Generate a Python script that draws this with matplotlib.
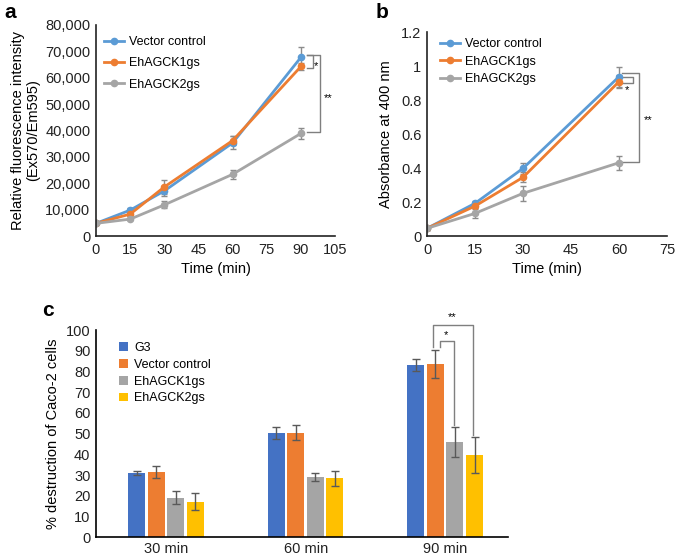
import matplotlib
matplotlib.use('Agg')
import matplotlib.pyplot as plt
from matplotlib.lines import Line2D
import numpy as np

plt.rcParams['font.family'] = ['Liberation Sans', 'DejaVu Sans']

# ---------------- data ----------------
series_names = ['Vector control', 'EhAGCK1gs', 'EhAGCK2gs']

time_a = [0, 15, 30, 60, 90]
a_vector = [4800, 9800, 17100, 35300, 67800]
a_vector_err = [300, 700, 1800, 2500, 3800]
a_k1 = [4800, 8300, 18600, 36200, 64300]
a_k1_err = [300, 600, 2600, 1800, 1300]
a_k2 = [4800, 6400, 11800, 23400, 38900]
a_k2_err = [300, 500, 1300, 1800, 2200]

time_b = [0, 15, 30, 60]
b_vector = [0.045, 0.192, 0.398, 0.937]
b_vector_err = [0.01, 0.015, 0.033, 0.06]
b_k1 = [0.045, 0.176, 0.345, 0.908]
b_k1_err = [0.01, 0.02, 0.03, 0.04]
b_k2 = [0.045, 0.133, 0.251, 0.431]
b_k2_err = [0.01, 0.03, 0.045, 0.04]

c_groups = ['30 min', '60 min', '90 min']
c_series = ['G3', 'Vector control', 'EhAGCK1gs', 'EhAGCK2gs']
c_g3 = [31.0, 50.3, 83.0]
c_g3_err = [0.8, 2.8, 3.0]
c_vector = [31.6, 50.5, 83.6]
c_vector_err = [2.9, 3.6, 6.6]
c_k1 = [19.2, 29.0, 46.0]
c_k1_err = [3.0, 2.0, 7.4]
c_k2 = [17.3, 28.5, 39.6]
c_k2_err = [4.3, 3.6, 8.6]

line_colors = ['#5B9BD5', '#ED7D31', '#A5A5A5']
bar_colors = ['#4472C4', '#ED7D31', '#A5A5A5', '#FFC000']
err_color = '#8C8C8C'
brk_color = '#7F7F7F'

W, H = 675, 557
fig = plt.figure(figsize=(W / 100, H / 100), dpi=100)


def ax_px(l, r, t, b):
    return fig.add_axes([l / W, 1 - b / H, (r - l) / W, (b - t) / H])


def style(ax, fs=10.5):
    for s in ['top', 'right']:
        ax.spines[s].set_visible(False)
    for s in ['left', 'bottom']:
        ax.spines[s].set_color('#222222')
        ax.spines[s].set_linewidth(1.2)
    ax.tick_params(length=0, labelsize=fs, colors='#222222')
    ax.tick_params(axis='x', pad=5)
    ax.tick_params(axis='y', pad=4)


def line_handles():
    return [Line2D([], [], color=c, lw=2, marker='o', ms=4.5) for c in line_colors]


# ---------------- panel a ----------------
axa = ax_px(96, 335.2, 25, 236)
for ys, es, col, nm in zip([a_vector, a_k1, a_k2], [a_vector_err, a_k1_err, a_k2_err],
                           line_colors, series_names):
    axa.errorbar(time_a, ys, yerr=es, color=col, lw=2, marker='o', ms=4.5,
                 ecolor=err_color, elinewidth=1, capsize=2.5, capthick=1, label=nm)
axa.set_xlim(0, 105)
axa.set_ylim(0, 80000)
axa.set_xticks(np.arange(0, 106, 15))
axa.set_yticks(np.arange(0, 80001, 10000))
axa.set_yticklabels(['{:,}'.format(v) for v in range(0, 80001, 10000)])
style(axa)
axa.set_xlabel('Time (min)', fontsize=10.5, labelpad=4)
axa.set_ylabel('Relative fluorescence intensity\n(Ex570/Em595)', fontsize=10.5, labelpad=4,
               linespacing=1.1)
axa.legend(line_handles(), series_names, loc='upper left', bbox_to_anchor=(104 / W, 1 - 36 / H),
           bbox_transform=fig.transFigure, frameon=False, fontsize=9,
           handlelength=1.6, handletextpad=0.4, labelspacing=0.75, borderpad=0,
           borderaxespad=0)
# significance brackets
ya_top = a_vector[-1] + 900
axa.plot([92.5, 98.3, 98.3, 92.5], [ya_top, ya_top, a_k2[-1] + 500, a_k2[-1] + 500],
         color=brk_color, lw=1, clip_on=False)
axa.plot([92.5, 95.4, 95.4, 92.5], [ya_top, ya_top, a_k1[-1] - 600, a_k1[-1] - 600],
         color=brk_color, lw=1, clip_on=False)
axa.text(96.6, 64300, '*', fontsize=8, ha='center', va='center')
axa.text(102, 52300, '**', fontsize=8, ha='center', va='center')

# ---------------- panel b ----------------
axb = ax_px(427, 667, 32, 236)
for ys, es, col, nm in zip([b_vector, b_k1, b_k2], [b_vector_err, b_k1_err, b_k2_err],
                           line_colors, series_names):
    axb.errorbar(time_b, ys, yerr=es, color=col, lw=2, marker='o', ms=4.5,
                 ecolor=err_color, elinewidth=1, capsize=2.5, capthick=1, label=nm)
axb.set_xlim(0, 75)
axb.set_ylim(0, 1.2)
axb.set_xticks(np.arange(0, 76, 15))
axb.set_yticks([0, 0.2, 0.4, 0.6, 0.8, 1.0, 1.2])
axb.set_yticklabels(['0', '0.2', '0.4', '0.6', '0.8', '1', '1.2'])
style(axb)
axb.set_xlabel('Time (min)', fontsize=10.5, labelpad=4)
axb.set_ylabel('Absorbance at 400 nm', fontsize=10.5, labelpad=6)
axb.legend(line_handles(), series_names, loc='upper left', bbox_to_anchor=(440 / W, 1 - 38 / H),
           bbox_transform=fig.transFigure, frameon=False, fontsize=9,
           handlelength=1.6, handletextpad=0.4, labelspacing=0.45, borderpad=0,
           borderaxespad=0)
axb.plot([60.9, 66.3, 66.3, 60.9], [0.957, 0.957, b_k2[-1] + 0.006, b_k2[-1] + 0.006],
         color=brk_color, lw=1, clip_on=False)
axb.plot([60.9, 64.4, 64.4, 60.9], [0.933, 0.933, 0.902, 0.902],
         color=brk_color, lw=1, clip_on=False)
axb.text(62.6, 0.858, '*', fontsize=8, ha='center', va='center')
axb.text(69.2, 0.682, '**', fontsize=8, ha='center', va='center')

# ---------------- panel c ----------------
axc = ax_px(96, 508, 330, 537.4)
xg = np.arange(len(c_groups))
step, bw = 0.14, 0.122
vals = [c_g3, c_vector, c_k1, c_k2]
errs = [c_g3_err, c_vector_err, c_k1_err, c_k2_err]
for i, (v, e, col, nm) in enumerate(zip(vals, errs, bar_colors, c_series)):
    axc.bar(xg + (i - 1.5) * step, v, width=bw, color=col, label=nm,
            yerr=e, error_kw=dict(ecolor='#595959', elinewidth=1, capsize=3, capthick=1))
axc.set_xlim(-0.502, 2.45)
axc.set_ylim(0, 100)
axc.set_xticks(xg)
axc.set_xticklabels(c_groups)
axc.set_yticks(np.arange(0, 101, 10))
style(axc)
axc.spines['left'].set_color('#000000')
axc.spines['bottom'].set_color('#000000')
axc.tick_params(axis='x', pad=3)
axc.set_ylabel('% destruction of Caco-2 cells', fontsize=10.5, labelpad=4)
h, l = axc.get_legend_handles_labels()
axc.legend(h, l, loc='upper left', bbox_to_anchor=(119 / W, 1 - 342 / H),
           bbox_transform=fig.transFigure, frameon=False, fontsize=9,
           handlelength=0.7, handleheight=0.7, handletextpad=0.5, labelspacing=0.38,
           borderpad=0, borderaxespad=0)
x_vc = 2 + (1 - 1.5) * step
x_k1 = 2 + (2 - 1.5) * step
x_k2 = 2 + (3 - 1.5) * step
y_vc_top = c_vector[2] + c_vector_err[2] + 1.7
axc.plot([x_vc - 0.02, x_vc - 0.02, x_k2 - 0.01, x_k2 - 0.01],
         [y_vc_top, 102.4, 102.4, c_k2[2] + c_k2_err[2] + 1],
         color=brk_color, lw=1, clip_on=False)
axc.plot([x_vc + 0.03, x_vc + 0.03, x_k1 - 0.01, x_k1 - 0.01],
         [y_vc_top, 94.8, 94.8, c_k1[2] + c_k1_err[2] + 0.6],
         color=brk_color, lw=1, clip_on=False)
axc.text(2.007, 97.5, '*', fontsize=8, ha='center', va='center')
axc.text(2.05, 106, '**', fontsize=8, ha='center', va='center', clip_on=False)

# panel letters
fig.text(4 / W, 1 - 13 / H, 'a', fontsize=15, fontweight='bold', va='center')
fig.text(376 / W, 1 - 13 / H, 'b', fontsize=15, fontweight='bold', va='center')
fig.text(42 / W, 1 - 310 / H, 'c', fontsize=15, fontweight='bold', va='center')

fig.savefig('out.png', dpi=100)
